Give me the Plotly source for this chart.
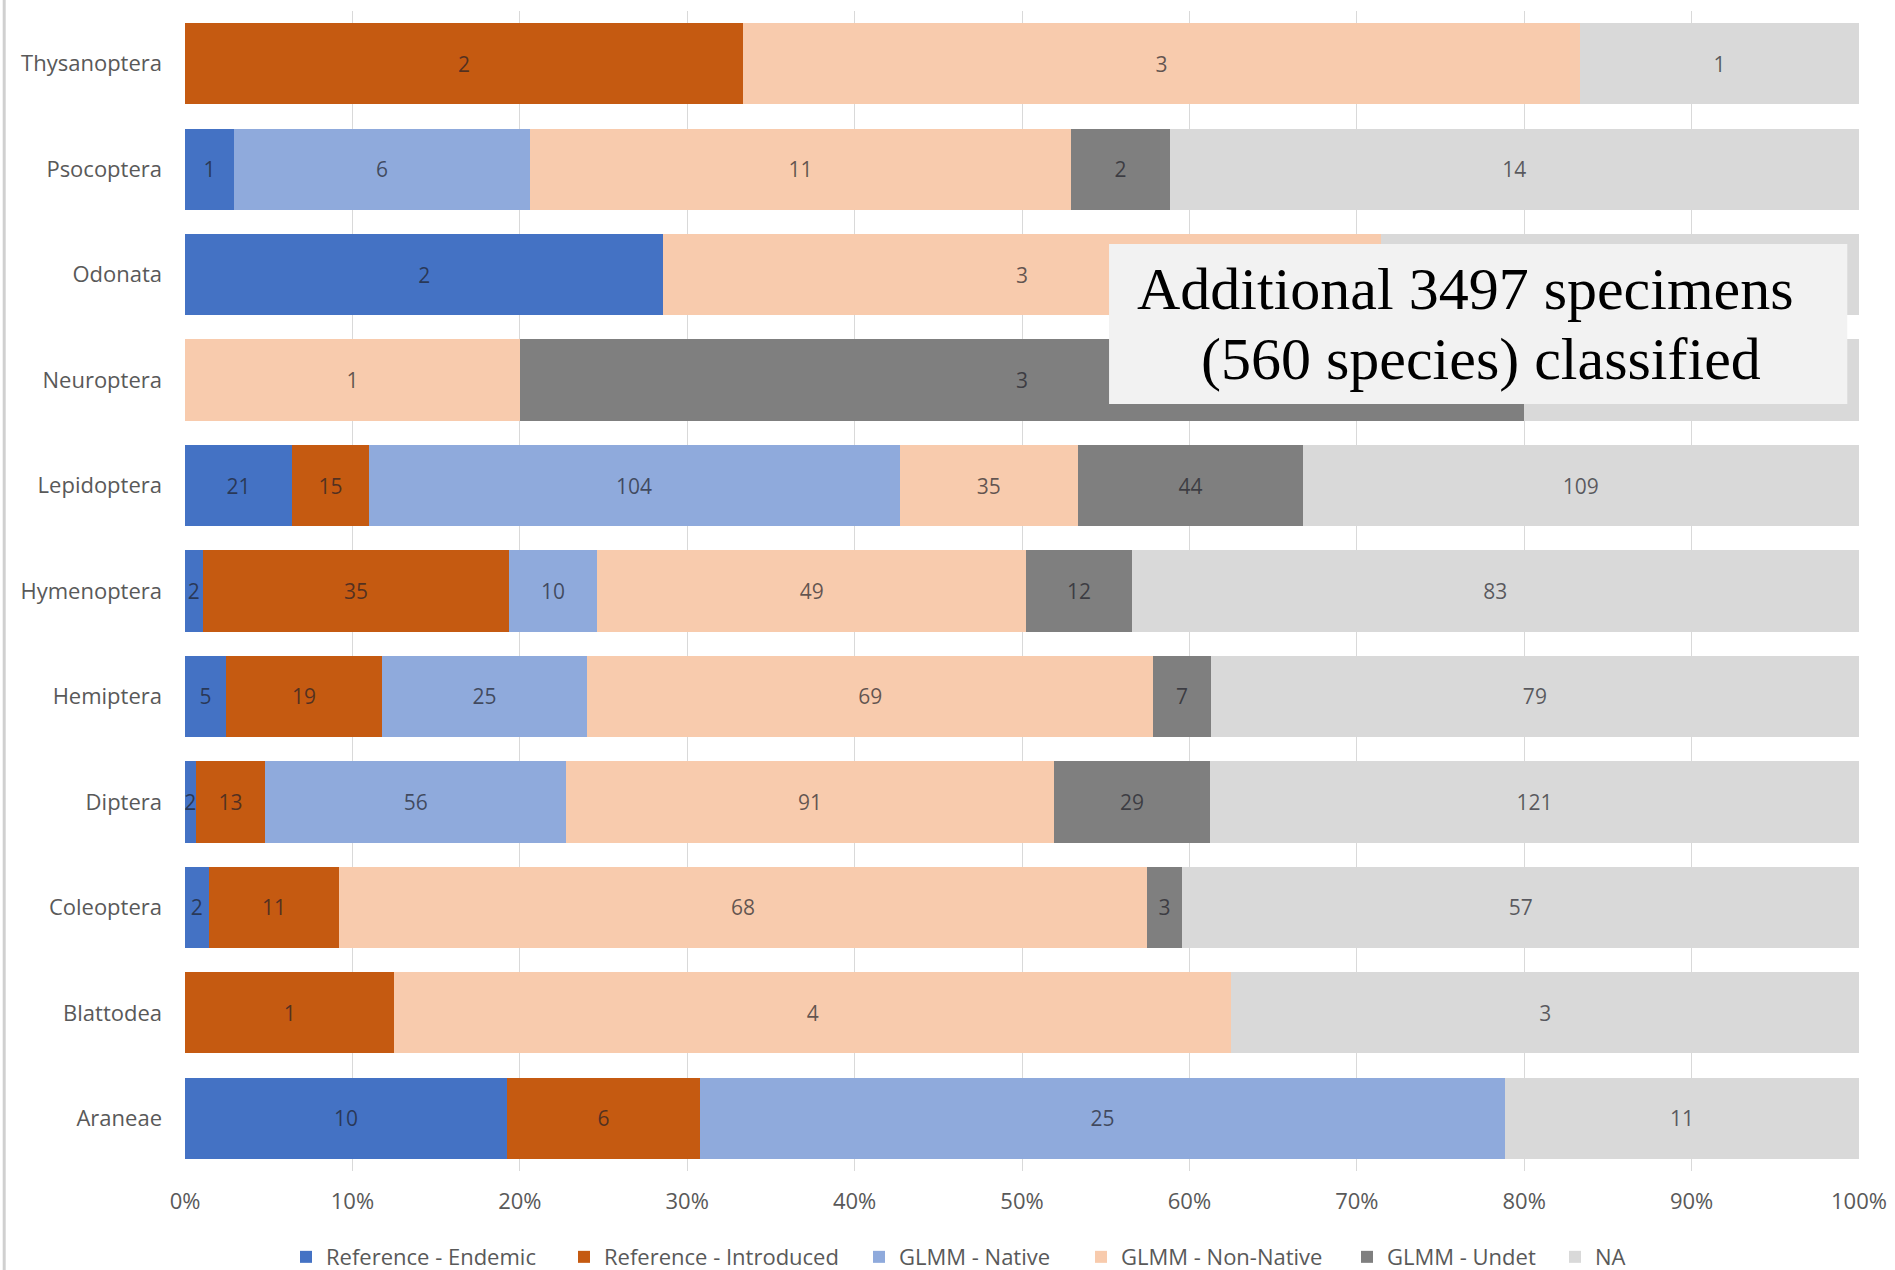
import plotly.graph_objects as go

categories = ["Thysanoptera", "Psocoptera", "Odonata", "Neuroptera", "Lepidoptera",
              "Hymenoptera", "Hemiptera", "Diptera", "Coleoptera", "Blattodea", "Araneae"]
ref_endemic    = [0, 1, 2, 0, 21, 2, 5, 2, 2, 0, 10]
ref_introduced = [2, 0, 0, 0, 15, 35, 19, 13, 11, 1, 6]
glmm_native    = [0, 6, 0, 0, 104, 10, 25, 56, 0, 0, 25]
glmm_nonnative = [3, 11, 3, 1, 35, 49, 69, 91, 68, 4, 0]
glmm_undet     = [0, 2, 0, 3, 44, 12, 7, 29, 3, 0, 0]
na_values      = [1, 14, 2, 1, 109, 83, 79, 121, 57, 3, 11]

series_names = ["Reference - Endemic", "Reference - Introduced", "GLMM - Native",
                "GLMM - Non-Native", "GLMM - Undet", "NA"]
series_values = [ref_endemic, ref_introduced, glmm_native, glmm_nonnative, glmm_undet, na_values]
colors = ["#4472C4", "#C55A11", "#8FAADC", "#F8CBAD", "#7F7F7F", "#D9D9D9"]

tick_vals = [0, 10, 20, 30, 40, 50, 60, 70, 80, 90, 100]
tick_text = [f"{v}%" for v in tick_vals]
annotation_line1 = "Additional 3497 specimens"
annotation_line2 = "(560 species) classified"

# legend entry positions (container fraction) to mimic spacing of original legend
legend_x = [286 / 1895, 564 / 1895, 859 / 1895, 1081 / 1895, 1347 / 1895, 1555 / 1895]
legend_ids = ["legend", "legend2", "legend3", "legend4", "legend5", "legend6"]

fig = go.Figure()
for name, vals, col, lid in zip(series_names, series_values, colors, legend_ids):
    fig.add_trace(go.Bar(
        y=categories, x=vals, name=name, orientation="h",
        marker=dict(color=col, line=dict(width=0)),
        text=[str(v) if v else "" for v in vals],
        textposition="inside", insidetextanchor="middle",
        constraintext="none",
        textfont=dict(family="Open Sans, sans-serif", size=21, color="rgba(30,30,40,0.7)"),
        hoverinfo="skip", legend=lid,
    ))

layout_legends = {}
for lid, lx in zip(legend_ids, legend_x):
    layout_legends[lid] = dict(orientation="h", xref="container", x=lx, xanchor="left",
                               yref="container", y=0.0102, yanchor="middle",
                               font=dict(size=22, color="#595959"),
                               itemwidth=30, bgcolor="rgba(0,0,0,0)")

fig.update_layout(
    barmode="stack", barnorm="percent", bargap=0.23,
    width=1895, height=1270,
    margin=dict(l=185, r=36, t=11, b=99, autoexpand=False),
    plot_bgcolor="white", paper_bgcolor="white",
    font=dict(family="Open Sans, sans-serif", color="#595959"),
    showlegend=True,
    xaxis=dict(range=[0, 100], tickvals=tick_vals, ticktext=tick_text,
               showgrid=True, gridcolor="#D9D9D9", gridwidth=1, zeroline=False,
               tickfont=dict(size=22, color="#595959"), ticks="", showline=False,
               ticklabelstandoff=15),
    yaxis=dict(categoryorder="array", categoryarray=categories[::-1],
               autorange=True, tickfont=dict(size=22, color="#595959"),
               ticks="", ticklen=0, showgrid=False, showline=False,
               ticklabelstandoff=22),
    **layout_legends,
)

fig.add_shape(type="line", xref="paper", yref="paper",
              x0=-0.108, x1=-0.108, y0=-0.1, y1=1.01,
              line=dict(color="#D0D0D0", width=3))

fig.add_shape(type="rect", xref="paper", yref="paper",
              x0=0.552, x1=0.993, y0=0.6612, y1=0.7991,
              fillcolor="#F2F2F2", line=dict(width=0), layer="above")

fig.add_annotation(
    xref="paper", yref="paper", x=0.7652, y=0.7605, xanchor="center", yanchor="middle",
    text=annotation_line1, showarrow=False,
    font=dict(family="Liberation Serif, serif", size=60, color="black"),
)
fig.add_annotation(
    xref="paper", yref="paper", x=0.7742, y=0.7002, xanchor="center", yanchor="middle",
    text=annotation_line2, showarrow=False,
    font=dict(family="Liberation Serif, serif", size=60, color="black"),
)

fig.write_html("out.html")
